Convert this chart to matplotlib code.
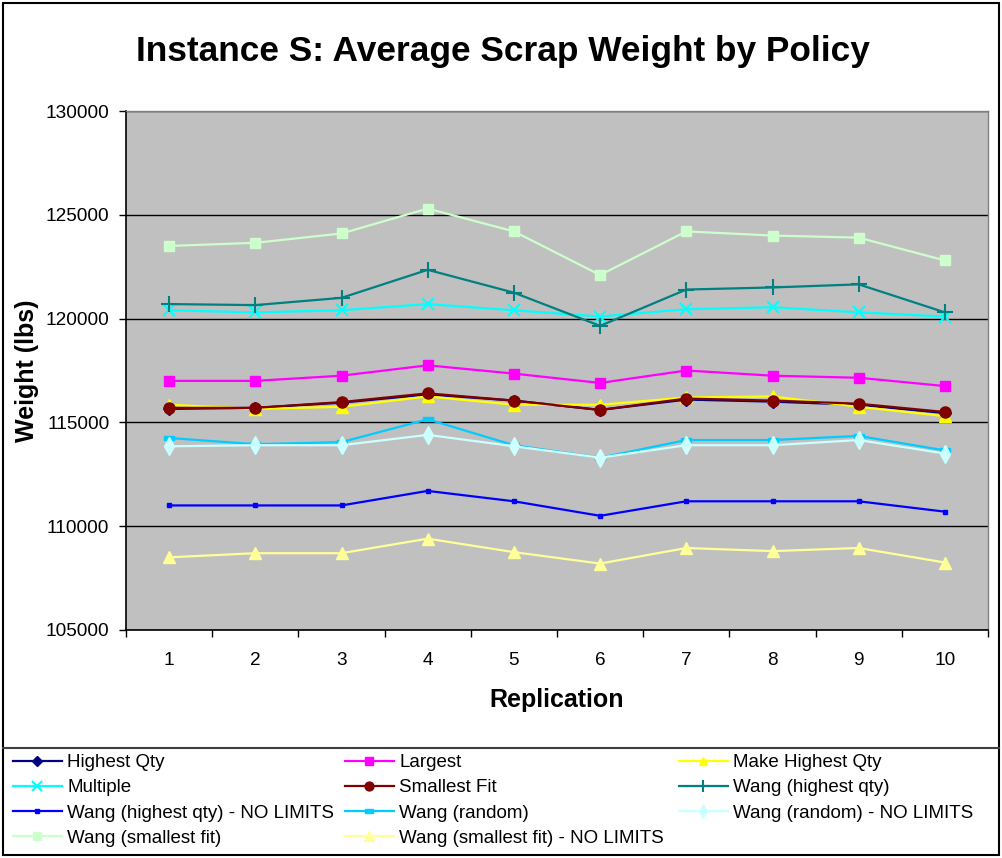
import matplotlib
matplotlib.use("Agg")
import matplotlib.pyplot as plt
from matplotlib.lines import Line2D
from matplotlib.patches import Rectangle

plt.rcParams['font.family'] = ['Liberation Sans', 'DejaVu Sans']

replications = [1, 2, 3, 4, 5, 6, 7, 8, 9, 10]

highest_qty = [115650, 115700, 115950, 116350, 116050, 115600, 116100, 116000, 115850, 115450]
largest = [117000, 117000, 117250, 117750, 117350, 116900, 117500, 117250, 117150, 116750]
make_highest_qty = [115850, 115650, 115750, 116250, 115850, 115850, 116200, 116250, 115750, 115300]
multiple = [120400, 120300, 120400, 120700, 120400, 120100, 120450, 120550, 120300, 120100]
smallest_fit = [115700, 115700, 115980, 116400, 116050, 115600, 116150, 116050, 115900, 115500]
wang_highest_qty = [120700, 120650, 121000, 122350, 121250, 119650, 121400, 121500, 121650, 120300]
wang_highest_qty_nl = [111000, 111000, 111000, 111700, 111200, 110500, 111200, 111200, 111200, 110700]
wang_random = [114250, 113950, 114050, 115150, 113900, 113300, 114150, 114150, 114350, 113650]
wang_random_nl = [113850, 113900, 113900, 114400, 113850, 113300, 113900, 113900, 114150, 113500]
wang_smallest_fit = [123500, 123650, 124100, 125300, 124200, 122100, 124200, 124000, 123900, 122800]
wang_smallest_fit_nl = [108500, 108700, 108700, 109400, 108750, 108200, 108950, 108800, 108950, 108250]

labels = ["Highest Qty", "Largest", "Make Highest Qty", "Multiple", "Smallest Fit",
          "Wang (highest qty)", "Wang (highest qty) - NO LIMITS", "Wang (random)",
          "Wang (random) - NO LIMITS", "Wang (smallest fit)", "Wang (smallest fit) - NO LIMITS"]
series = [highest_qty, largest, make_highest_qty, multiple, smallest_fit, wang_highest_qty,
          wang_highest_qty_nl, wang_random, wang_random_nl, wang_smallest_fit, wang_smallest_fit_nl]

wide_rect = [(-1, -0.5), (1, -0.5), (1, 0.5), (-1, 0.5), (-1, -0.5)]
styles = [
    dict(color='#000080', marker='D', ms=6),
    dict(color='#FF00FF', marker='s', ms=7),
    dict(color='#FFFF00', marker='^', ms=8),
    dict(color='#00FFFF', marker='x', ms=9, mew=1.5),
    dict(color='#800000', marker='o', ms=8),
    dict(color='#008080', marker='+', ms=11, mew=1.5),
    dict(color='#0000FF', marker='s', ms=3.5),
    dict(color='#00CCFF', marker=wide_rect, ms=7),
    dict(color='#CCFFFF', marker='d', ms=9),
    dict(color='#CCFFCC', marker='s', ms=7.5),
    dict(color='#FFFF99', marker='^', ms=8.5),
]

W, H = 1002, 858
fig = plt.figure(figsize=(W / 100, H / 100), dpi=100)
ax = fig.add_axes([126 / W, 1 - 630 / H, 862 / W, 519 / H])
ax.set_facecolor('#C0C0C0')

handles = []
for lab, vals, st in zip(labels, series, styles):
    h, = ax.plot(replications, vals, lw=1.6, label=lab, mec=st['color'], mfc=st['color'], **st)
    handles.append(h)

ax.set_xlim(0.5, 10.5)
ax.set_ylim(105000, 130000)
ax.set_yticks(range(105000, 130001, 5000))
ax.set_xticks(replications)
ax.set_xticks([i + 0.5 for i in range(0, 11)], minor=True)
ax.grid(axis='y', color='black', lw=1.0)
ax.set_axisbelow(True)
ax.tick_params(axis='x', which='major', length=0, pad=16, labelsize=13.7)
ax.tick_params(axis='x', which='minor', length=5, direction='out', width=1)
ax.tick_params(axis='y', length=5, direction='out', width=1, pad=7, labelsize=13.7)
for s in ['left', 'bottom']:
    ax.spines[s].set_color('black')
    ax.spines[s].set_linewidth(1.2)
for s in ['top', 'right']:
    ax.spines[s].set_color('#808080')
    ax.spines[s].set_linewidth(1.0)

ax.set_xlabel('Replication', fontsize=18, fontweight='bold')
ax.xaxis.set_label_coords(0.499, -0.135)
ax.xaxis.label.set_va('center')
ax.set_ylabel('Weight (lbs)', fontsize=18, fontweight='bold')
ax.yaxis.set_label_coords(-0.115, 0.5)
ax.yaxis.label.set_va('center')

fig.text(503 / W, 1 - 51 / H, 'Instance S: Average Scrap Weight by Policy',
         fontsize=25.4, fontweight='bold', ha='center', va='center')

# frame and legend separator
fig.patches.append(Rectangle((3 / W, 1 - 855 / H), 996 / W, 852 / H, transform=fig.transFigure,
                             fill=False, ec='black', lw=1.5))
fig.add_artist(Line2D([3 / W, 999 / W], [1 - 748 / H, 1 - 748 / H], transform=fig.transFigure,
                      color='#404040', lw=1.5))

col_x = [13, 345, 679]
cols = [[0, 3, 6, 9], [1, 4, 7, 10], [2, 5, 8]]
for cx, idxs in zip(col_x, cols):
    fig.legend([handles[i] for i in idxs], [labels[i] for i in idxs], loc='upper left',
               bbox_to_anchor=(cx / W, 1 - 754 / H), frameon=False, fontsize=13.5,
               borderpad=0, borderaxespad=0, handlelength=2.6, handletextpad=0.3,
               labelspacing=0.43, markerscale=0.8)

fig.savefig('out.png', dpi=100)
